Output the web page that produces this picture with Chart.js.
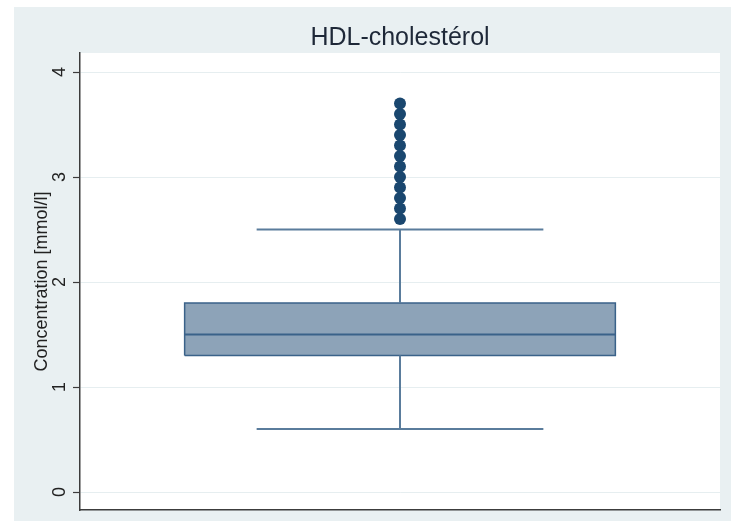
<!DOCTYPE html>
<html>
<head>
<meta charset="utf-8">
<title>HDL-cholestérol</title>
<script src="https://cdn.jsdelivr.net/npm/chart.js@4/dist/chart.umd.min.js"></script>
<style>
  html, body { margin: 0; padding: 0; background: #ffffff; }
  #wrap { position: relative; width: 731px; height: 521px; }
</style>
</head>
<body>
<div id="wrap"><canvas id="chart" width="731" height="521"></canvas></div>
<script>
// Box-plot summary of HDL cholesterol (mmol/l)
const chartTitle = 'HDL-cholestérol';
const yAxisTitle = 'Concentration [mmol/l]';
const quartiles = [1.3, 1.5, 1.8];          // Q1, median, Q3
const whiskerEnds = [0.6, 2.5];             // lower and upper adjacent values
const outliers = [2.6, 2.7, 2.8, 2.9, 3.0, 3.1, 3.2, 3.3, 3.4, 3.5, 3.6, 3.7];
const yTicks = [0, 1, 2, 3, 4];

// drawing geometry (x runs from -1 to 1 across the plot)
const BOX_HALF = 0.673;
const CAP_HALF = 0.448;

const FONT = "'Liberation Sans', Arial, Helvetica, sans-serif";
const BOX_FILL = '#8da3b8';
const BOX_EDGE = '#3a6289';
const WHISKER = '#5a7c9c';
const DOT = '#1a476f';

const [q1, med, q3] = quartiles;
const [wLo, wHi] = whiskerEnds;

const lineSet = (points, color, width, extra) => Object.assign({
  data: points,
  showLine: true,
  borderColor: color,
  borderWidth: width,
  pointRadius: 0,
  fill: false,
  tension: 0
}, extra || {});

const backgrounds = {
  id: 'backgrounds',
  beforeDraw(chart) {
    const { ctx, chartArea: a, width, height } = chart;
    ctx.save();
    ctx.fillStyle = '#e9f0f2';
    ctx.fillRect(14, 7, width - 14, height - 7);
    ctx.fillStyle = '#ffffff';
    ctx.fillRect(a.left, a.top, a.right - a.left, a.bottom - a.top);
    ctx.restore();
  }
};

// datasets listed top-most first (Chart.js paints index 0 last)
new Chart(document.getElementById('chart'), {
  type: 'scatter',
  data: {
    datasets: [
      // outside values
      {
        data: outliers.map(v => ({ x: 0, y: v })),
        showLine: false,
        pointRadius: 6,
        pointBackgroundColor: DOT,
        pointBorderColor: DOT,
        pointBorderWidth: 0
      },
      // median
      lineSet([{ x: -BOX_HALF, y: med }, { x: BOX_HALF, y: med }], BOX_EDGE, 2),
      // whisker stems
      lineSet([{ x: 0, y: q3 }, { x: 0, y: wHi }], WHISKER, 2),
      lineSet([{ x: 0, y: q1 }, { x: 0, y: wLo }], WHISKER, 2),
      // whisker caps
      lineSet([{ x: -CAP_HALF, y: wHi }, { x: CAP_HALF, y: wHi }], WHISKER, 2),
      lineSet([{ x: -CAP_HALF, y: wLo }, { x: CAP_HALF, y: wLo }], WHISKER, 2),
      // box body
      lineSet([
        { x: -BOX_HALF, y: q1 }, { x: BOX_HALF, y: q1 },
        { x: BOX_HALF, y: q3 }, { x: -BOX_HALF, y: q3 }, { x: -BOX_HALF, y: q1 }
      ], BOX_EDGE, 1.5, { fill: 'shape', backgroundColor: BOX_FILL })
    ]
  },
  options: {
    responsive: false,
    animation: false,
    events: [],
    layout: { padding: { top: 0, right: 11, bottom: 0, left: 0 } },
    plugins: {
      legend: { display: false },
      tooltip: { enabled: false },
      title: { display: false }
    },
    scales: {
      x: {
        type: 'linear',
        min: -1,
        max: 1,
        ticks: { display: false },
        grid: { display: false },
        border: { display: true, color: '#3c3c3c', width: 1.5 },
        afterFit(s) { s.height = 11; s.paddingLeft = 0; s.paddingRight = 0; }
      },
      // top axis carries the chart heading, centred over the plot region
      xTop: {
        type: 'linear',
        position: 'top',
        min: -1,
        max: 1,
        ticks: { display: false },
        grid: { display: false, drawTicks: false },
        border: { display: false },
        title: {
          display: true,
          text: chartTitle,
          color: '#1e2838',
          font: { family: FONT, size: 25, weight: 'normal' },
          padding: { top: 23, bottom: 0 }
        },
        afterFit(s) { s.height = 53; s.paddingLeft = 0; s.paddingRight = 0; }
      },
      y: {
        type: 'linear',
        min: -0.1714,
        max: 4.181,
        afterBuildTicks(s) { s.ticks = yTicks.map(v => ({ value: v })); },
        ticks: {
          color: '#222222',
          font: { family: FONT, size: 18 },
          minRotation: 90,
          maxRotation: 90,
          crossAlign: 'center',
          padding: 8,
          callback: v => String(v)
        },
        grid: {
          color: '#e6eef0',
          lineWidth: 1,
          tickColor: '#3c3c3c',
          tickLength: 7,
          tickWidth: 1.2
        },
        border: { display: true, color: '#3c3c3c', width: 1.5 },
        title: {
          display: true,
          text: yAxisTitle,
          color: '#222222',
          font: { family: FONT, size: 18 },
          padding: { top: 31, bottom: 0 }
        },
        afterFit(s) { s.width = 80; s.paddingTop = 0; s.paddingBottom = 0; }
      }
    }
  },
  plugins: [backgrounds]
});
</script>
</body>
</html>
